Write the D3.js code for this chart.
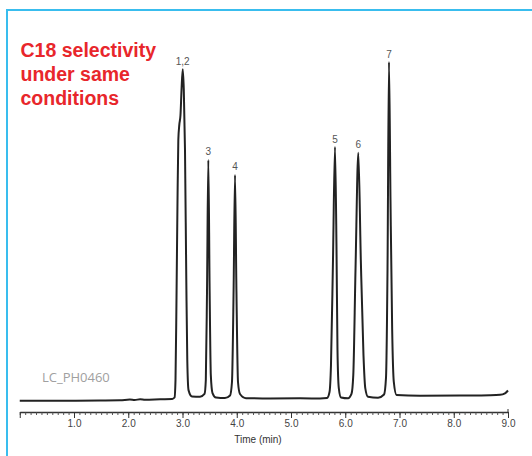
<!DOCTYPE html>
<html>
<head>
<meta charset="utf-8">
<script src="https://cdn.jsdelivr.net/npm/d3@7/dist/d3.min.js"></script>
<style>
  html, body { margin: 0; padding: 0; background: #fff; }
  svg { display: block; }
</style>
</head>
<body>
<script>
// ---- Data ----
const timeMin = [
  0.00, 0.74, 1.48, 1.85, 2.03, 2.12, 2.22, 2.31, 2.59, 2.81,
  2.853, 2.871, 2.889, 2.908, 2.923, 2.941, 2.963, 2.982, 3.004, 3.024, 3.046, 3.070, 3.088, 3.111, 3.175, 3.323, 3.406,
  3.430, 3.452, 3.476, 3.500, 3.522, 3.553, 3.618, 3.783, 3.876,
  3.912, 3.942, 3.968, 3.994, 4.023, 4.060, 4.171, 4.613, 5.166, 5.535, 5.664,
  5.710, 5.737, 5.774, 5.811, 5.839, 5.857, 5.881, 5.922, 6.051, 6.115,
  6.148, 6.189, 6.241, 6.287, 6.336, 6.369, 6.419, 6.604, 6.715,
  6.751, 6.779, 6.806, 6.834, 6.865, 6.895, 6.945, 7.378, 8.115, 8.668, 8.853, 8.944, 9.000
];
const signal = [
  0.10, 0.10, 0.15, 0.20, 0.44, 0.29, 0.53, 0.35, 0.50, 0.59,
  1.03, 6.2, 29.7, 59.1, 76.8, 81.2, 84.1, 91.5, 97.6, 91.5, 73.8, 35.6, 12.1, 3.2, 1.32, 1.24, 2.06,
  6.2, 32.6, 70.9, 32.6, 7.6, 2.35, 1.03, 0.88, 1.62,
  5.6, 32.6, 66.5, 32.6, 5.6, 2.06, 0.82, 0.76, 0.79, 0.74, 0.88,
  2.65, 10.6, 41.5, 74.7, 44.4, 15.0, 3.8, 1.03, 0.79, 2.06,
  7.6, 38.5, 73.0, 41.5, 13.5, 3.8, 1.24, 0.97, 1.91,
  6.8, 38.5, 99.7, 59.1, 20.9, 5.6, 1.76, 1.53, 1.62, 1.71, 1.82, 2.26, 3.1
];
const peakLabels  = ["1,2", "3", "4", "5", "6", "7"];
const peakTimes   = [3.004, 3.476, 3.968, 5.811, 6.241, 6.806];
const peakHeights = [97.6, 70.9, 66.5, 74.7, 73.0, 99.7];
const majorTicks  = [1, 2, 3, 4, 5, 6, 7, 8, 9];
const majorLabels = ["1.0", "2.0", "3.0", "4.0", "5.0", "6.0", "7.0", "8.0", "9.0"];
const titleLines  = ["C18 selectivity", "under same", "conditions"];
const xTitle = "Time (min)";
const codeLabel = "LC_PH0460";

// ---- Layout ----
const W = 532, H = 456;
const svg = d3.select("body").append("svg").attr("width", W).attr("height", H);

// frame (blue top/left rules)
svg.append("line").attr("x1", 7).attr("x2", W).attr("y1", 10).attr("y2", 10)
  .attr("stroke", "#39bdee").attr("stroke-width", 2);
svg.append("line").attr("x1", 7).attr("x2", 7).attr("y1", 9).attr("y2", H)
  .attr("stroke", "#39bdee").attr("stroke-width", 2);

const x = d3.scaleLinear().domain([0, 9]).range([19.75, 508]);
const y = d3.scaleLinear().domain([0, 100]).range([401, 61]);
const axisY = 412;

// minor ticks every 0.1 min
const minorVals = d3.range(0, 91).map(i => i / 10);
svg.append("g").attr("transform", `translate(0,${axisY})`)
  .call(d3.axisBottom(x).tickValues(minorVals).tickSize(3).tickFormat("").tickSizeOuter(0))
  .call(g => g.select(".domain").attr("stroke", "#333").attr("stroke-width", 1.3))
  .call(g => g.selectAll(".tick line").attr("stroke", "#444").attr("stroke-width", 0.9));

// major ticks with labels
svg.append("g").attr("transform", `translate(0,${axisY})`)
  .call(d3.axisBottom(x).tickValues([0].concat(majorTicks)).tickSize(6).tickPadding(2)
    .tickFormat(d => d === 0 ? "" : majorLabels[majorTicks.indexOf(d)]))
  .call(g => g.select(".domain").remove())
  .call(g => g.selectAll(".tick line").attr("stroke", "#333").attr("stroke-width", 1))
  .call(g => g.selectAll(".tick text")
    .attr("font-family", "'Liberation Sans Narrow', 'Liberation Sans', Arial, sans-serif")
    .attr("font-size", 10).attr("fill", "#444"));

// small upward tick at 9.0 end
svg.append("line").attr("x1", x(9)).attr("x2", x(9)).attr("y1", axisY - 3).attr("y2", axisY)
  .attr("stroke", "#333").attr("stroke-width", 1);

svg.append("text").attr("x", 258).attr("y", 443).attr("text-anchor", "middle")
  .attr("font-family", "'Liberation Sans', Arial, sans-serif").attr("font-size", 10)
  .attr("fill", "#333").text(xTitle);

// chromatogram trace
const pts = timeMin.map((t, i) => [t, signal[i]]);
const line = d3.line().x(d => x(d[0])).y(d => y(d[1])).curve(d3.curveMonotoneX);
svg.append("path").datum(pts).attr("d", line)
  .attr("fill", "none").attr("stroke", "#222").attr("stroke-width", 2)
  .attr("stroke-linejoin", "round");

// peak labels
svg.selectAll(".plabel").data(peakLabels).enter().append("text")
  .attr("class", "plabel")
  .attr("x", (d, i) => x(peakTimes[i]))
  .attr("y", (d, i) => y(peakHeights[i]) - 4.5)
  .attr("text-anchor", "middle")
  .attr("font-family", "'Liberation Sans', Arial, sans-serif")
  .attr("font-size", 10).attr("fill", "#555").text(d => d);

// code label
svg.append("text").attr("x", 42).attr("y", 381.5)
  .attr("font-family", "'Open Sans', sans-serif").attr("font-size", 13)
  .attr("fill", "#a0a0a0").text(codeLabel);

// red title (three lines)
svg.append("g").selectAll("text").data(titleLines).enter().append("text")
  .attr("x", 20.5).attr("y", (d, i) => 56.7 + i * 24)
  .attr("font-family", "'Liberation Sans', Arial, sans-serif").attr("font-weight", 700)
  .attr("font-size", 19.5).attr("fill", "#e8262b").text(d => d);
</script>
</body>
</html>
